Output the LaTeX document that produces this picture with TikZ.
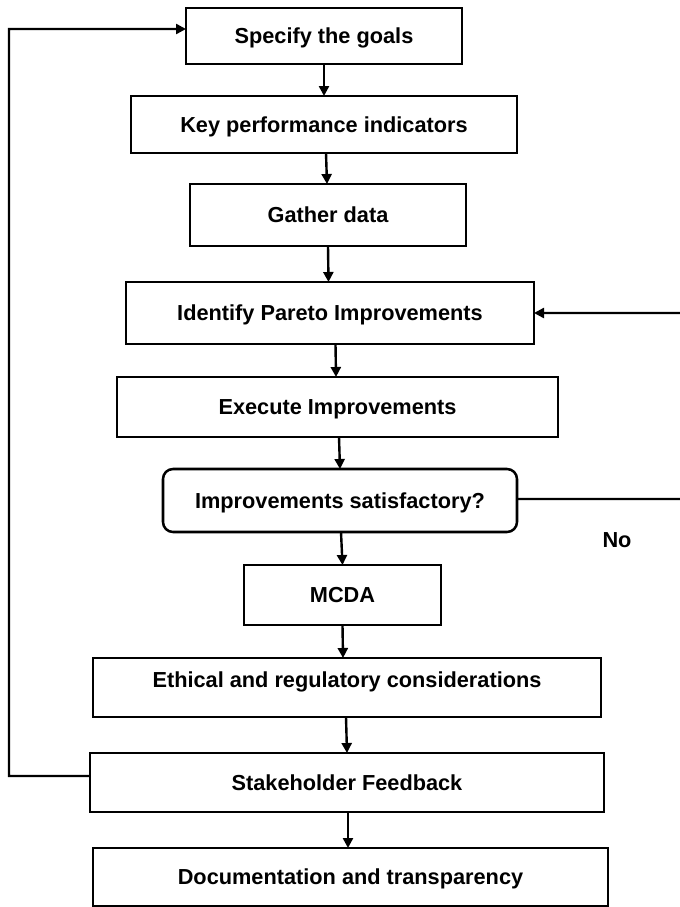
\documentclass[tikz,border=0pt]{standalone}
\usepackage{fontspec}
\setmainfont{Liberation Sans}
\usetikzlibrary{arrows.meta}
\begin{document}
\begin{tikzpicture}[x=0.75pt,y=-0.75pt,
  bx/.style 2 args={draw=black, line width=1.9pt, fill=white, inner sep=0pt, outer sep=0pt,
    minimum width=#1*0.75pt, minimum height=#2*0.75pt,
    font=\bfseries\fontsize{16.3}{19}\selectfont, text height=11.67pt, text depth=0pt},
  lbl/.style={inner sep=0pt, font=\bfseries\fontsize{16.3}{19}\selectfont, text height=11.67pt, text depth=0pt},
  arr/.style={line width=1.8pt, -{Triangle[length=7.5pt,width=7.5pt]}},
  ln/.style={line width=1.8pt},
  sx/.style={xshift=#1*0.75pt}]
\useasboundingbox (0,0) rectangle (680,907);
\node[bx={276}{56}] (spec) at (324,36) {Specify the goals};
\node[bx={386}{57}] (kpi) at (324,124.5) {Key performance indicators};
\node[bx={276}{62}] (gather) at (328,215) {Gather data};
\node[bx={408}{62}] (pareto) at (330,313) {Identify Pareto Improvements};
\node[bx={441}{60}] (exec) at (337.5,407) {Execute Improvements};
\node[bx={354}{63}, rounded corners=7.5pt] (sat) at (340,500.5) {Improvements satisfactory?};
\node[bx={197}{60}] (mcda) at (342.5,595) {MCDA};
\node[bx={508}{59}, text depth=12pt] (eth) at (347,687.5) {Ethical and regulatory considerations};
\node[bx={514}{59}] (stake) at (347,782.5) {Stakeholder Feedback};
\node[bx={515}{58}] (doc) at (350.5,877) {Documentation and transparency};
\node[lbl] (no) at (617,539.5) {No};
% vertical flow
\draw[arr] (spec.south) -- (kpi.north);
\draw[arr] ([sx=2]kpi.south) -- ([sx=-1]gather.north);
\draw[arr] (gather.south) -- ([sx=-1.5]pareto.north);
\draw[arr] ([sx=5.5]pareto.south) -- ([sx=-1.5]exec.north);
\draw[arr] ([sx=1.5]exec.south) -- (sat.north);
\draw[arr] ([sx=1]sat.south) -- (mcda.north);
\draw[arr] (mcda.south) -- ([sx=-4]eth.north);
\draw[arr] ([sx=-1]eth.south) -- (stake.north);
\draw[arr] ([sx=1]stake.south) -- ([sx=-2.5]doc.north);
% feedback loop left
\coordinate (fl1) at (9,776);
\coordinate (fl2) at (9,29);
\draw[arr] ([yshift=4.9pt]stake.west) -- (fl1) -- (fl2) -- ([yshift=5.25pt]spec.west);
% loop right (No)
\coordinate (rb) at (684,499);
\coordinate (rt) at (684,313);
\draw[arr] ([yshift=1.1pt]sat.east) -- (rb) -- (rt) -- (pareto.east);
\end{tikzpicture}
\end{document}
